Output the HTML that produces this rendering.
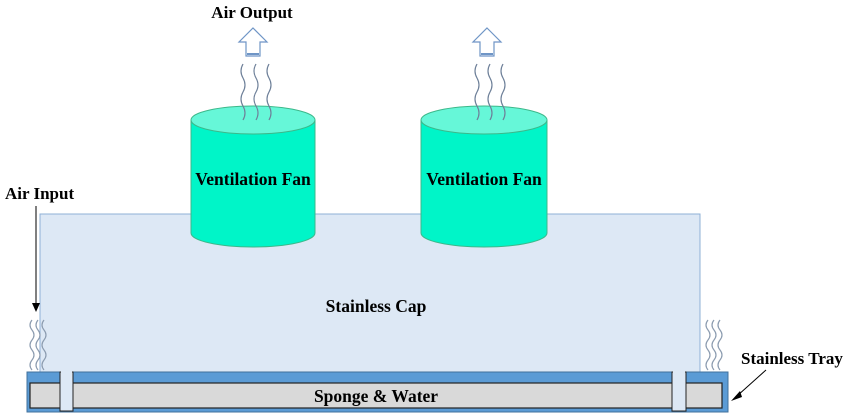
<!DOCTYPE html>
<html><head><style>body{margin:0;background:#fff}svg{display:block}</style></head>
<body>
<svg width="850" height="418" xmlns="http://www.w3.org/2000/svg" font-family="Liberation Serif, serif" font-weight="bold">
<rect x="40" y="214" width="660" height="160" fill="#dde8f5" stroke="#8fb0d6" stroke-width="1"/>
<!-- tray -->
<rect x="27" y="372" width="701" height="40" fill="#5b9bd5" stroke="#41719c" stroke-width="1"/>
<rect x="30" y="383" width="692" height="25" fill="#d9d9d9" stroke="#222" stroke-width="1.2"/>
<rect x="60" y="372" width="13" height="39" fill="#dde8f5" stroke="#222" stroke-width="1"/>
<rect x="61" y="371" width="11" height="3" fill="#dde8f5"/>
<rect x="672" y="372" width="14" height="39" fill="#dde8f5" stroke="#222" stroke-width="1"/>
<rect x="673" y="371" width="12" height="3" fill="#dde8f5"/>
<text x="376" y="402" font-size="17.5" text-anchor="middle">Sponge &amp; Water</text>
<text x="376" y="312" font-size="17.5" text-anchor="middle">Stainless Cap</text>
<!-- fans -->
<g stroke="#3cb88a" stroke-width="1">
<path d="M191 120 V233 A62 14 0 0 0 315 233 V120 Z" fill="#00f5c8"/>
<ellipse cx="253" cy="120" rx="62" ry="14" fill="#66f7d8"/>
<path d="M421 120 V233 A63 14 0 0 0 547 233 V120 Z" fill="#00f5c8"/>
<ellipse cx="484" cy="120" rx="63" ry="14" fill="#66f7d8"/>
</g>
<text x="253" y="185" font-size="17.5" text-anchor="middle">Ventilation Fan</text>
<text x="484" y="185" font-size="17.5" text-anchor="middle">Ventilation Fan</text>
<defs><path id="wv" d="M0 0 q-4 7 0 14 q4 7 0 14 q-4 7 0 14 q4 7 0 14" fill="none" stroke="#6e8099" stroke-width="1.2"/>
<path id="ws" d="M0 0 q-4 5 0 10 q4 5 0 10 q-4 5 0 10 q4 5 0 10 q-4 5 0 10" fill="none" stroke="#8c9cb0" stroke-width="1.2"/></defs>
<use href="#wv" x="243" y="64"/><use href="#wv" x="256" y="64"/><use href="#wv" x="269" y="64"/>
<use href="#wv" x="477" y="64"/><use href="#wv" x="490" y="64"/><use href="#wv" x="503" y="64"/>
<use href="#ws" x="32" y="320"/><use href="#ws" x="38" y="320"/><use href="#ws" x="44" y="320"/>
<use href="#ws" x="708" y="320"/><use href="#ws" x="714" y="320"/><use href="#ws" x="720" y="320"/>
<!-- up arrows -->
<g fill="#fff" stroke="#6f95c6" stroke-width="1.2">
<path d="M253 28 L267 42 H260 V56 H246 V42 H239 Z"/>
<path d="M487 28 L501 42 H494 V56 H480 V42 H473 Z"/>
</g>
<line x1="247" y1="54" x2="259" y2="54" stroke="#6f95c6" stroke-width="2"/>
<line x1="481" y1="54" x2="493" y2="54" stroke="#6f95c6" stroke-width="2"/>
<text x="252" y="18" font-size="17" text-anchor="middle">Air Output</text>
<text x="5" y="199" font-size="17">Air Input</text>
<line x1="36" y1="206" x2="36" y2="305" stroke="#000" stroke-width="1"/>
<path d="M32 303 L36 312 L40 303 Z" fill="#000"/>
<text x="741" y="364" font-size="17">Stainless Tray</text>
<line x1="766" y1="370" x2="737" y2="396" stroke="#000" stroke-width="1"/>
<path d="M731 401 L740 391 L742 397 Z" fill="#000"/>
</svg>
</body></html>
